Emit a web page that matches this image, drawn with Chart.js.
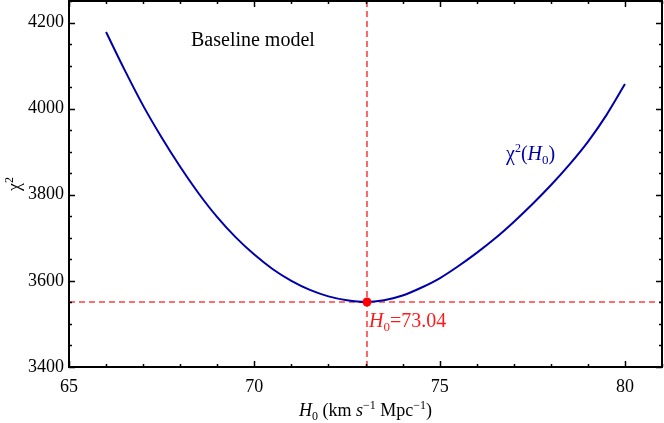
<!DOCTYPE html>
<html>
<head>
<meta charset="utf-8">
<script src="https://cdn.jsdelivr.net/npm/chart.js@4.4.1/dist/chart.umd.min.js"></script>
<style>
  html, body { margin: 0; padding: 0; background: #fff; }
  #wrap { width: 664px; height: 423px; }
</style>
</head>
<body>
<div id="wrap"><canvas id="chart"></canvas></div>
<script>
// data
const h0 = [66, 66.5, 67, 67.5, 68, 68.5, 69, 69.5, 70, 70.5, 71, 71.5, 72, 72.5, 73,
            73.5, 74, 74.5, 75, 75.5, 76, 76.5, 77, 77.5, 78, 78.5, 79, 79.5, 80];
const chi2 = [4178, 4090, 4007, 3933, 3865, 3803, 3748, 3701, 3661, 3627, 3600, 3579, 3564, 3555, 3551,
              3555, 3566, 3584, 3606, 3634, 3665, 3699, 3737, 3778, 3822, 3870, 3923, 3985, 4057];
const bestH0 = 73.04;
const bestChi2 = 3551;
const xLabels = [65, 70, 75, 80];
const yLabels = [3400, 3600, 3800, 4000, 4200];

const SERIF = "'Liberation Serif', 'DejaVu Serif', serif";

// draws a run of text pieces (for italics / sub / superscripts)
function drawRich(ctx, parts, x, y, align) {
    let total = 0;
    parts.forEach(p => { ctx.font = p.font; total += ctx.measureText(p.t).width; });
    let cx = align === 'center' ? x - total / 2 : x;
    parts.forEach(p => {
        ctx.font = p.font;
        ctx.fillStyle = p.color;
        ctx.fillText(p.t, cx, y + (p.dy || 0));
        cx += ctx.measureText(p.t).width;
    });
}

const framePlugin = {
    id: 'frame',
    afterDraw(chart) {
        const ctx = chart.ctx;
        const a = chart.chartArea;
        const xs = chart.scales.x, ys = chart.scales.y;
        ctx.save();
        ctx.strokeStyle = '#000';
        ctx.lineWidth = 2;
        ctx.strokeRect(a.left, a.top, a.right - a.left, a.bottom - a.top);

        // inward ticks on all four sides
        ctx.lineWidth = 1.5;
        ctx.beginPath();
        xs.ticks.forEach(t => {
            const px = Math.round(xs.getPixelForValue(t.value)) + 0.5;
            const len = xLabels.includes(t.value) ? 6 : 3;
            ctx.moveTo(px, a.bottom); ctx.lineTo(px, a.bottom - len);
            ctx.moveTo(px, a.top); ctx.lineTo(px, a.top + len);
        });
        ys.ticks.forEach(t => {
            const py = Math.round(ys.getPixelForValue(t.value)) + 0.5;
            const len = yLabels.includes(t.value) ? 6 : 3;
            ctx.moveTo(a.left, py); ctx.lineTo(a.left + len, py);
            ctx.moveTo(a.right, py); ctx.lineTo(a.right - len, py);
        });
        ctx.stroke();

        ctx.textBaseline = 'alphabetic';
        const n = '18px ' + SERIF, it = 'italic 18px ' + SERIF, sm = '12px ' + SERIF;

        // x axis title
        drawRich(ctx, [
            { t: 'H', font: it, color: '#000' },
            { t: '0', font: sm, color: '#000', dy: 4 },
            { t: ' (km ', font: n, color: '#000' },
            { t: 's', font: it, color: '#000' },
            { t: '\u22121', font: sm, color: '#000', dy: -7 },
            { t: ' Mpc', font: n, color: '#000' },
            { t: '\u22121', font: sm, color: '#000', dy: -7 },
            { t: ')', font: n, color: '#000' }
        ], (a.left + a.right) / 2, 416, 'center');

        // y axis title
        ctx.save();
        ctx.translate(20, (a.top + a.bottom) / 2);
        ctx.rotate(-Math.PI / 2);
        drawRich(ctx, [
            { t: '\u03C7', font: n, color: '#000' },
            { t: '2', font: sm, color: '#000', dy: -7 }
        ], 0, 0, 'center');
        ctx.restore();

        // annotations
        drawRich(ctx, [{ t: 'Baseline model', font: '20px ' + SERIF, color: '#000' }], 191, 46, 'left');

        const blue = '#0000aa';
        drawRich(ctx, [
            { t: '\u03C7', font: '20px ' + SERIF, color: blue },
            { t: '2', font: '12px ' + SERIF, color: blue, dy: -8 },
            { t: '(', font: '20px ' + SERIF, color: blue },
            { t: 'H', font: 'italic 20px ' + SERIF, color: blue },
            { t: '0', font: '13px ' + SERIF, color: blue, dy: 4 },
            { t: ')', font: '20px ' + SERIF, color: blue }
        ], 506, 160, 'left');

        const red = '#ff1a1a';
        drawRich(ctx, [
            { t: 'H', font: 'italic 20px ' + SERIF, color: red },
            { t: '0', font: '13px ' + SERIF, color: red, dy: 4 },
            { t: '=73.04', font: '20px ' + SERIF, color: red }
        ], xs.getPixelForValue(bestH0) + 2, ys.getPixelForValue(bestChi2) + 25, 'left');
        ctx.restore();
    }
};

const ctx = document.getElementById('chart');
new Chart(ctx, {
    type: 'line',
    data: {
        datasets: [
            {
                data: [{ x: bestH0, y: bestChi2 }],
                pointRadius: 4.5, pointBackgroundColor: '#ff0000', pointBorderWidth: 0,
                showLine: false, order: 0
            },
            {
                data: h0.map((x, i) => ({ x: x, y: chi2[i] })),
                borderColor: '#0000aa', borderWidth: 2, pointRadius: 0,
                cubicInterpolationMode: 'monotone', order: 1
            },
            {
                data: [{ x: 65, y: bestChi2 }, { x: 81, y: bestChi2 }],
                borderColor: '#ff4040', borderWidth: 1.6, borderDash: [6, 4], pointRadius: 0, order: 2
            },
            {
                data: [{ x: bestH0, y: 3400 }, { x: bestH0, y: 4250 }],
                borderColor: '#ff4040', borderWidth: 1.6, borderDash: [6, 4], pointRadius: 0, order: 2
            }
        ]
    },
    options: {
        responsive: true,
        maintainAspectRatio: false,
        animation: false,
        layout: { autoPadding: false, padding: { top: 1, right: 2, left: 0, bottom: 0 } },
        plugins: { legend: { display: false }, tooltip: { enabled: false } },
        scales: {
            x: {
                type: 'linear', min: 65, max: 81,
                grid: { display: false, drawTicks: false },
                border: { display: false },
                ticks: {
                    stepSize: 1, autoSkip: false, maxRotation: 0, padding: 9,
                    color: '#000', font: { family: SERIF, size: 18 },
                    callback: v => xLabels.includes(v) ? String(v) : ''
                },
                afterFit: s => { s.height = 56; s.paddingLeft = 0; s.paddingRight = 0; }
            },
            y: {
                type: 'linear', min: 3400, max: 4250,
                grid: { display: false, drawTicks: false },
                border: { display: false },
                ticks: {
                    stepSize: 50, autoSkip: false, padding: 5,
                    color: '#000', font: { family: SERIF, size: 18 },
                    callback: v => yLabels.includes(v) ? String(v) : ''
                },
                afterFit: s => { s.width = 69; s.paddingTop = 0; s.paddingBottom = 0; }
            }
        }
    },
    plugins: [framePlugin]
});
</script>
</body>
</html>
